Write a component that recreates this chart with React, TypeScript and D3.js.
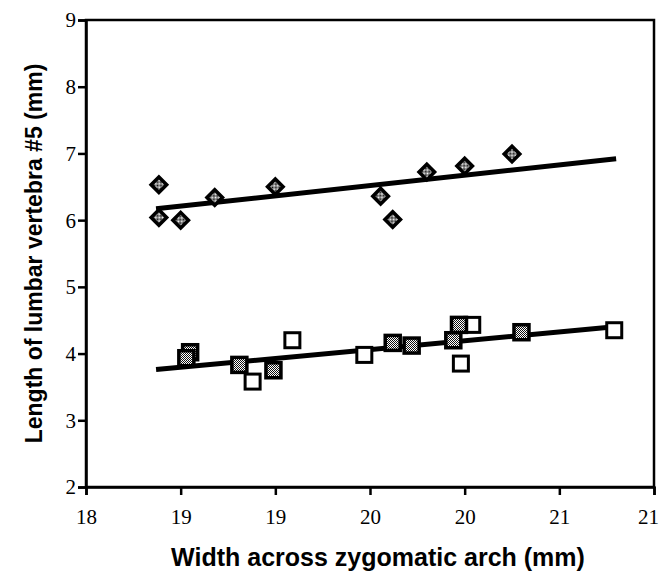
import React, { useEffect, useRef } from "react";
import * as d3 from "d3";

// diamonds (upper group)
const diamondX = [18.385, 18.385, 18.5, 18.68, 19.0, 19.556, 19.62, 19.8, 20.0, 20.25];
const diamondY = [6.53, 6.04, 6.0, 6.34, 6.5, 6.36, 6.01, 6.72, 6.81, 6.99];

// shaded squares (lower group)
const shadedX = [18.55, 18.53, 18.81, 18.99, 19.62, 19.72, 19.94, 19.97, 20.3];
const shadedY = [4.02, 3.93, 3.83, 3.75, 4.16, 4.12, 4.2, 4.43, 4.32];

// open squares (lower group)
const openX = [18.88, 19.09, 19.47, 19.98, 20.04, 20.79];
const openY = [3.58, 4.2, 3.98, 3.85, 4.43, 4.35];

// fitted lines, read as end points
const upperLineX = [18.37, 20.8];
const upperLineY = [6.17, 6.92];
const lowerLineX = [18.37, 20.82];
const lowerLineY = [3.76, 4.41];

const xTicks = [18, 18.5, 19, 19.5, 20, 20.5, 21];
const xTickLabels = ["18", "19", "19", "20", "20", "21", "21"];
const yTicks = [2, 3, 4, 5, 6, 7, 8, 9];

const width = 663;
const height = 581;
const margin = { top: 20, right: 9, bottom: 94, left: 86 };

const App = () => {
  const ref = useRef<SVGSVGElement>(null);

  useEffect(() => {
    const svg = d3.select(ref.current);
    svg.selectAll("*").remove();

    const x = d3.scaleLinear().domain([18, 21]).range([margin.left, width - margin.right]);
    const y = d3.scaleLinear().domain([2, 9]).range([height - margin.bottom, margin.top]);

    // halftone fill
    const defs = svg.append("defs");
    const pat = defs.append("pattern")
      .attr("id", "halftone")
      .attr("width", 2)
      .attr("height", 2)
      .attr("patternUnits", "userSpaceOnUse");
    pat.append("rect").attr("width", 2).attr("height", 2).attr("fill", "#fff");
    pat.append("rect").attr("width", 1).attr("height", 1).attr("fill", "#111");
    pat.append("rect").attr("x", 1).attr("y", 1).attr("width", 1).attr("height", 1).attr("fill", "#111");

    // frame
    svg.append("rect")
      .attr("x", x(18)).attr("y", y(9))
      .attr("width", x(21) - x(18)).attr("height", y(2) - y(9))
      .attr("fill", "none").attr("stroke", "#000").attr("stroke-width", 2.5);

    const xAxis = svg.append("g")
      .attr("transform", `translate(0,${y(2)})`)
      .call(d3.axisBottom(x).tickValues(xTicks).tickSize(8)
        .tickFormat((d, i) => xTickLabels[i]));
    const yAxis = svg.append("g")
      .attr("transform", `translate(${x(18)},0)`)
      .call(d3.axisLeft(y).tickValues(yTicks).tickSize(8).tickFormat(d3.format("d")));

    [xAxis, yAxis].forEach(g => {
      g.select(".domain").attr("stroke-width", 2.5);
      g.selectAll(".tick line").attr("stroke-width", 2.5);
      g.selectAll(".tick text")
        .attr("font-family", "'Liberation Serif', 'Times New Roman', serif")
        .attr("font-size", 21)
        .attr("fill", "#000");
    });
    xAxis.selectAll(".tick text").attr("dy", "1.22em");
    // last label sits a little inside the frame edge
    xAxis.selectAll(".tick:last-of-type text").attr("x", -6);
    yAxis.selectAll(".tick text").attr("x", -10).attr("dy", "0.33em");

    // trend lines
    const line = d3.line<[number, number]>().x(d => x(d[0])).y(d => y(d[1]));
    [[upperLineX, upperLineY], [lowerLineX, lowerLineY]].forEach(([lx, ly]) => {
      svg.append("path")
        .datum(lx.map((v, i) => [v, ly[i]] as [number, number]))
        .attr("d", line)
        .attr("fill", "none")
        .attr("stroke", "#000")
        .attr("stroke-width", 5);
    });

    // open squares
    svg.append("g").selectAll("rect")
      .data(openX.map((v, i) => [v, openY[i]]))
      .join("rect")
      .attr("x", d => x(d[0]) - 7.5)
      .attr("y", d => y(d[1]) - 7.5)
      .attr("width", 15).attr("height", 15)
      .attr("fill", "#fff").attr("stroke", "#000").attr("stroke-width", 3);

    // shaded squares
    svg.append("g").selectAll("rect")
      .data(shadedX.map((v, i) => [v, shadedY[i]]))
      .join("rect")
      .attr("x", d => x(d[0]) - 7.5)
      .attr("y", d => y(d[1]) - 7.5)
      .attr("width", 15).attr("height", 15)
      .attr("fill", "url(#halftone)").attr("stroke", "#000").attr("stroke-width", 3.5);

    // diamonds
    svg.append("g").selectAll("path")
      .data(diamondX.map((v, i) => [v, diamondY[i]]))
      .join("path")
      .attr("transform", d => `translate(${x(d[0])},${y(d[1])}) rotate(45)`)
      .attr("d", "M-5.5,-5.5H5.5V5.5H-5.5Z")
      .attr("fill", "url(#halftone)").attr("stroke", "#000").attr("stroke-width", 3.5);

    // axis titles
    svg.append("text")
      .attr("x", (x(18) + x(21)) / 2 + 8)
      .attr("y", 566)
      .attr("text-anchor", "middle")
      .attr("font-family", "'Liberation Sans', Arial, sans-serif")
      .attr("font-weight", "bold")
      .attr("font-size", 25)
      .text("Width across zygomatic arch (mm)");

    svg.append("text")
      .attr("transform", `translate(42,${(y(2) + y(9)) / 2}) rotate(-90)`)
      .attr("text-anchor", "middle")
      .attr("font-family", "'Liberation Sans', Arial, sans-serif")
      .attr("font-weight", "bold")
      .attr("font-size", 23)
      .text("Length of lumbar vertebra #5 (mm)");
  }, []);

  return (
    <svg
      ref={ref}
      width={width}
      height={height}
      style={{ position: "absolute", left: 0, top: 0, background: "#fff" }}
    />
  );
};

export default App;
